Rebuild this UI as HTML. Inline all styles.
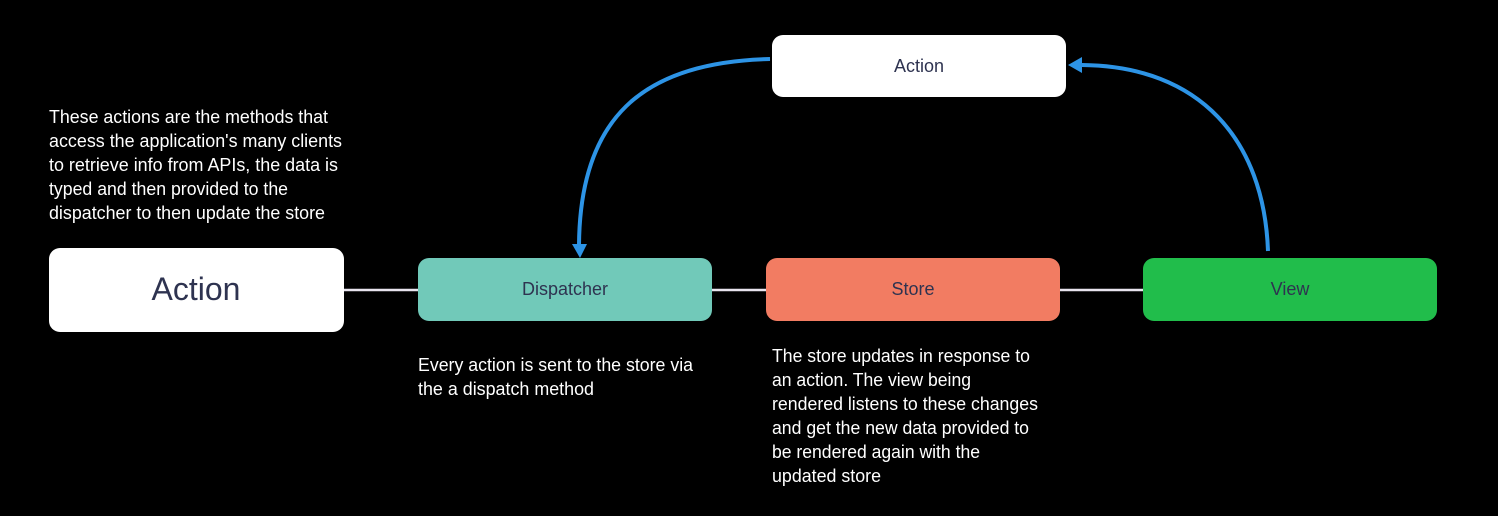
<!DOCTYPE html>
<html><head><meta charset="utf-8"><style>
html,body{margin:0;padding:0;background:#000;}
svg{display:block}
.t{font-family:"Liberation Sans",sans-serif;fill:#fff;font-size:18px}
.l{font-family:"Liberation Sans",sans-serif;fill:#2e3350;text-anchor:middle}
</style></head><body>
<svg width="1498" height="516" viewBox="0 0 1498 516" xmlns="http://www.w3.org/2000/svg">
<rect width="1498" height="516" fill="#000"/>
<!-- connectors -->
<line x1="344" y1="290" x2="418" y2="290" stroke="#e8e4ee" stroke-width="2.5"/>
<line x1="712" y1="290" x2="766" y2="290" stroke="#e8e4ee" stroke-width="2.5"/>
<line x1="1060" y1="290" x2="1143" y2="290" stroke="#e8e4ee" stroke-width="2.5"/>
<!-- boxes -->
<rect x="49" y="248" width="295" height="84" rx="11" fill="#fff"/>
<rect x="418" y="258" width="294" height="63" rx="11" fill="#71c9b9"/>
<rect x="766" y="258" width="294" height="63" rx="11" fill="#f27c62"/>
<rect x="1143" y="258" width="294" height="63" rx="11" fill="#21bd4b"/>
<rect x="772" y="35" width="294" height="62" rx="11" fill="#fff"/>
<text class="l" x="196" y="300" font-size="32">Action</text>
<text class="l" x="565" y="295" font-size="18">Dispatcher</text>
<text class="l" x="913" y="295" font-size="18">Store</text>
<text class="l" x="1290" y="295" font-size="18">View</text>
<text class="l" x="919" y="72" font-size="18">Action</text>
<!-- arrows -->
<path d="M770 59 C 640 62, 580 120, 579 245" fill="none" stroke="#2d94e6" stroke-width="4"/>
<polygon points="572,244 587,244 580,258" fill="#2d94e6"/>
<path d="M1268 251 C 1264 140, 1200 66, 1082 65" fill="none" stroke="#2d94e6" stroke-width="4"/>
<polygon points="1082,57 1082,73 1068,65" fill="#2d94e6"/>
<!-- texts -->
<text class="t" x="49" y="123" textLength="279" lengthAdjust="spacingAndGlyphs">These actions are the methods that</text>
<text class="t" x="49" y="147" textLength="293" lengthAdjust="spacingAndGlyphs">access the application's many clients</text>
<text class="t" x="49" y="171" textLength="289" lengthAdjust="spacingAndGlyphs">to retrieve info from APIs, the data is</text>
<text class="t" x="49" y="195" textLength="239" lengthAdjust="spacingAndGlyphs">typed and then provided to the</text>
<text class="t" x="49" y="219" textLength="276" lengthAdjust="spacingAndGlyphs">dispatcher to then update the store</text>
<text class="t" x="418" y="371" textLength="275" lengthAdjust="spacingAndGlyphs">Every action is sent to the store via</text>
<text class="t" x="418" y="395" textLength="176" lengthAdjust="spacingAndGlyphs">the a dispatch method</text>
<text class="t" x="772" y="362" textLength="258" lengthAdjust="spacingAndGlyphs">The store updates in response to</text>
<text class="t" x="772" y="386" textLength="199" lengthAdjust="spacingAndGlyphs">an action. The view being</text>
<text class="t" x="772" y="410" textLength="266" lengthAdjust="spacingAndGlyphs">rendered listens to these changes</text>
<text class="t" x="772" y="434" textLength="257" lengthAdjust="spacingAndGlyphs">and get the new data provided to</text>
<text class="t" x="772" y="458" textLength="208" lengthAdjust="spacingAndGlyphs">be rendered again with the</text>
<text class="t" x="772" y="482" textLength="109" lengthAdjust="spacingAndGlyphs">updated store</text>
</svg>
</body></html>
